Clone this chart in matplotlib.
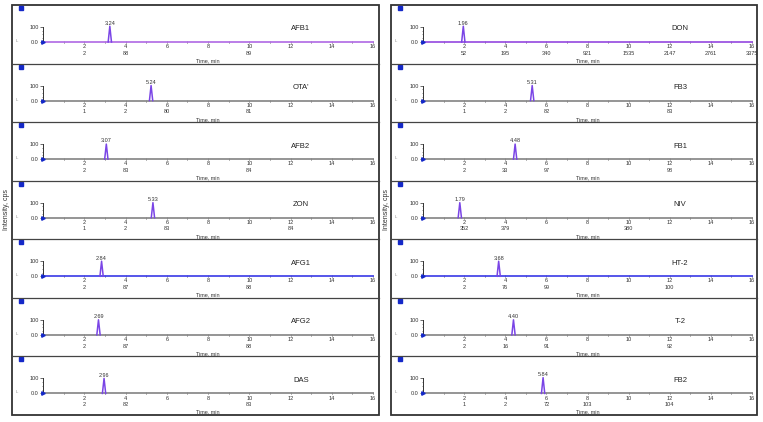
import numpy as np
import matplotlib
matplotlib.use("Agg")
import matplotlib.pyplot as plt
from matplotlib.patches import Rectangle
from matplotlib.lines import Line2D

plt.rcParams['font.family'] = ['Liberation Sans', 'DejaVu Sans']

# ---- data ----
left_names = ["AFB1", "OTA'", "AFB2", "ZON", "AFG1", "AFG2", "DAS"]
left_rt = [3.24, 5.24, 3.07, 5.33, 2.84, 2.69, 2.96]
left_height = [105, 100, 100, 100, 100, 100, 100]
left_scans = [
    {2: "2", 4: "88", 10: "89"},
    {2: "1", 4: "2", 6: "80", 10: "81"},
    {2: "2", 4: "83", 10: "84"},
    {2: "1", 4: "2", 6: "83", 12: "84"},
    {2: "2", 4: "87", 10: "88"},
    {2: "2", 4: "87", 10: "88"},
    {2: "2", 4: "82", 10: "83"},
]
left_line = ["#b574e6", "#8c8c8c", "#8c8c8c", "#8c8c8c", "#4848e8", "#8c8c8c", "#8c8c8c"]

right_names = ["DON", "FB3", "FB1", "NIV", "HT-2", "T-2", "FB2"]
right_rt = [1.96, 5.31, 4.48, 1.79, 3.68, 4.40, 5.84]
right_height = [105, 100, 100, 100, 100, 100, 105]
right_scans = [
    {2: "52", 4: "195", 6: "340", 8: "921", 10: "1535", 12: "2147", 14: "2761", 16: "3375"},
    {2: "1", 4: "2", 6: "82", 12: "83"},
    {2: "2", 4: "33", 6: "97", 12: "98"},
    {2: "352", 4: "379", 10: "380"},
    {2: "2", 4: "76", 6: "99", 12: "100"},
    {2: "2", 4: "16", 6: "91", 12: "92"},
    {2: "1", 4: "2", 6: "72", 8: "103", 12: "104"},
]
right_line = ["#9c55e2", "#8c8c8c", "#8c8c8c", "#8c8c8c", "#4848e8", "#8c8c8c", "#8c8c8c"]

time_ticks = [2, 4, 6, 8, 10, 12, 14, 16]

W, H = 763, 422
fig = plt.figure(figsize=(W / 100, H / 100), dpi=100)
fig.patch.set_facecolor("white")


def fx(x):
    return x / W


def fy(y):
    return 1 - y / H


row_top0 = 5
row_h = 58.57
peak_w = 0.08


def panel(x0, x1, ax_left, ax_right, names, rts, heights, scans, colors):
    # outer frame
    fig.add_artist(Rectangle((fx(x0), fy(415)), fx(x1 - x0), (415 - 5) / H,
                             transform=fig.transFigure, fill=False,
                             edgecolor="#333333", linewidth=1.3))
    for i in range(1, 7):
        yy = row_top0 + i * row_h
        fig.add_artist(Line2D([fx(x0), fx(x1)], [fy(yy), fy(yy)],
                              transform=fig.transFigure, color="#444444", linewidth=0.9))
    fig.text(fx(x0 - 5), fy(210), "Intensity, cps", rotation=90,
             ha="center", va="center", fontsize=5, color="#333333")

    for i, name in enumerate(names):
        top = row_top0 + i * row_h
        base = top + 37
        # little blue square in the corner
        fig.add_artist(Rectangle((fx(x0 + 7), fy(top + 5)), 4 / W, 4 / H,
                                 transform=fig.transFigure, color="#1428c8"))
        fig.text(fx(x0 + 5), fy(base - 1), "L", fontsize=3, color="#888888",
                 ha="center", va="center")

        ax = fig.add_axes([fx(ax_left), fy(base), (ax_right - ax_left) / W, 17 / H])
        ax.patch.set_alpha(0)
        rt = rts[i]
        h = heights[i]
        ax.plot([0, 16], [0, 0], color=colors[i], linewidth=1.3, zorder=2,
                clip_on=False)
        ax.plot([rt - peak_w, rt, rt + peak_w], [0, h, 0], color="#7a45e6",
                linewidth=1.1, zorder=3, clip_on=False)
        ax.plot([0], [0], marker=">", color="#1428c8", markersize=2.5, zorder=4,
                clip_on=False)
        ax.annotate("%.2f" % rt, xy=(rt, h), xytext=(0, 0.5), textcoords="offset points",
                    ha="center", va="bottom", fontsize=4, color="#333333")
        ax.text(12.5, 87, name, ha="center", va="center", fontsize=5.5, color="#222222")

        ax.set_xlim(0, 16)
        ax.set_ylim(0, 113)
        for s in ["top", "right", "bottom"]:
            ax.spines[s].set_visible(False)
        ax.spines["left"].set_bounds(0, 100)
        ax.spines["left"].set_linewidth(0.7)
        ax.spines["left"].set_color("#333333")
        ax.set_yticks([0, 100])
        ax.set_yticklabels(["0.0", "100"])
        ax.set_yticks([25, 50, 75], minor=True)
        ax.tick_params(axis="y", which="major", length=2, width=0.5, pad=1,
                       labelsize=4, colors="#333333")
        ax.tick_params(axis="y", which="minor", length=1, width=0.4, colors="#333333")
        ax.set_xticks(time_ticks)
        ax.set_xticks(np.arange(1, 16, 2), minor=True)
        ax.tick_params(axis="x", which="major", length=2, width=0.5, pad=0.5,
                       labelsize=4, colors="#333333", direction="inout")
        ax.tick_params(axis="x", which="minor", length=2, width=0.5,
                       colors="#333333", direction="inout")
        for t, lab in scans[i].items():
            ax.annotate(lab, xy=(t, 0), xycoords="data", xytext=(0, -6.3),
                        textcoords="offset points", ha="center", va="top",
                        fontsize=4, color="#333333")
        ax.annotate("Time, min", xy=(0.5, 0), xycoords="axes fraction",
                    xytext=(0, -13.5), textcoords="offset points",
                    ha="center", va="center", fontsize=4, color="#333333")


panel(12, 379, 43, 373, left_names, left_rt, left_height, left_scans, left_line)
panel(391, 757, 423, 752, right_names, right_rt, right_height, right_scans, right_line)

fig.savefig("out.png", dpi=100)
